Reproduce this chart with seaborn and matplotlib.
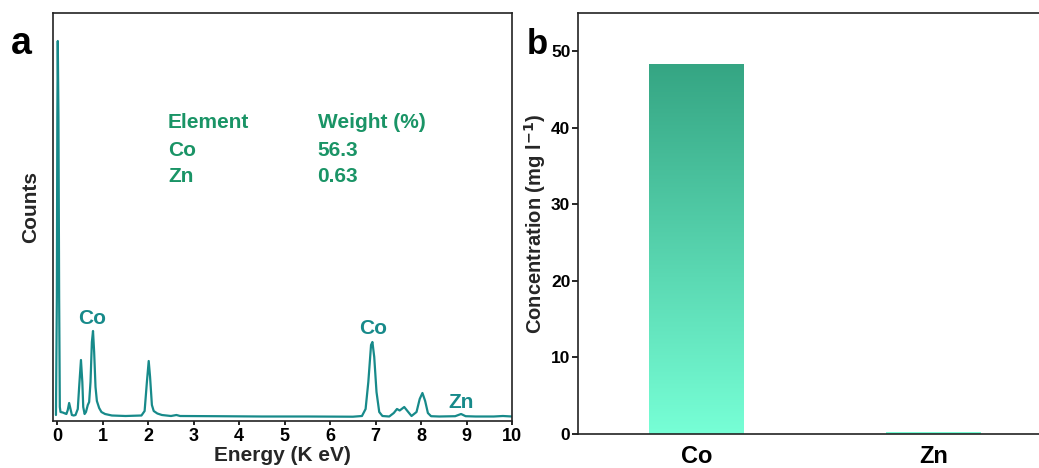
import numpy as np
import pandas as pd
import matplotlib
matplotlib.use("Agg")
import matplotlib.pyplot as plt
import seaborn as sns

# ---------------- data ----------------
energy = [-0.03, -0.01, 0.0, 0.01, 0.025, 0.04, 0.055, 0.07, 0.12, 0.17, 0.2, 0.23, 0.26, 0.29,
          0.32, 0.36, 0.4, 0.45, 0.48, 0.52, 0.55, 0.57, 0.6, 0.63, 0.67, 0.70, 0.73, 0.76, 0.785,
          0.81, 0.84, 0.87, 0.92, 0.97, 1.05, 1.2, 1.5, 1.85, 1.92, 1.97, 2.01, 2.04, 2.08, 2.12,
          2.2, 2.3, 2.5, 2.62, 2.7, 3.5, 4.5, 5.5, 6.5, 6.7, 6.78, 6.84, 6.9, 6.93, 6.97, 7.02,
          7.08, 7.15, 7.3, 7.4, 7.47, 7.53, 7.63, 7.7, 7.79, 7.9, 7.97, 8.03, 8.09, 8.15, 8.22,
          8.4, 8.75, 8.88, 8.98, 9.2, 9.6, 9.8, 10.0]
counts = [2, 120, 300, 376, 300, 120, 10, 5, 4.5, 3.5, 3, 7, 14, 8,
          2, 1.5, 2, 8, 30, 57, 35, 10, 3, 5, 12, 15, 35, 75, 86,
          65, 30, 16, 9, 5, 3, 1.5, 1, 1.5, 6, 35, 56, 40, 12, 6,
          3.5, 2, 1, 2, 1, 0.8, 0.5, 0.5, 0.3, 1, 8, 35, 72, 75, 60, 25,
          5, 1, 0.5, 4, 8, 6.5, 10, 6, 1, 5, 18, 24, 16, 4, 0.8,
          0.5, 0.8, 3, 0.8, 0.5, 0.5, 1, 0.5]

peak_labels = ["Co", "Co", "Zn"]
peak_label_x = [0.77, 6.94, 8.87]
peak_label_y = [99, 88, 14]

table_header = ["Element", "Weight (%)"]
table_elements = ["Co", "Zn"]
table_weights = ["56.3", "0.63"]

bar_elements = ["Co", "Zn"]
bar_conc = [48.4, 0.25]

# ---------------- style ----------------
sns.set_theme(style="white")
plt.rcParams["font.family"] = ["Liberation Sans", "DejaVu Sans"]
plt.rcParams["font.weight"] = "bold"
plt.rcParams["axes.labelweight"] = "bold"

line_color = "#178a8a"
table_color = "#1a9466"
top_col = np.array([0x35, 0xa5, 0x83]) / 255
bot_col = np.array([0x77, 0xff, 0xd6]) / 255

fig = plt.figure(figsize=(10.39, 4.68), dpi=100)
ax1 = fig.add_axes([53 / 1039, (468 - 421) / 468, 459 / 1039, 408 / 468])
ax2 = fig.add_axes([578 / 1039, (468 - 434) / 468, 474 / 1039, 421 / 468])

# ---------------- panel a ----------------
df = pd.DataFrame({"Energy": energy, "Counts": counts})
sns.lineplot(data=df, x="Energy", y="Counts", ax=ax1, sort=False, estimator=None,
             color=line_color, linewidth=1.6)
ax1.set_xlim(-0.095, 10)
ax1.set_ylim(-4, 404)
ax1.set_xticks(range(0, 11))
ax1.set_yticks([])
ax1.set_xlabel("Energy (K eV)", fontsize=15, fontweight="bold", labelpad=1)
ax1.set_ylabel("Counts", fontsize=15, fontweight="bold")
ax1.yaxis.set_label_coords(-0.028, 0.525)
ax1.tick_params(axis="x", direction="out", length=3, width=1.2, pad=2,
                labelsize=13, bottom=True, colors="black")
for lab in ax1.get_xticklabels():
    lab.set_fontweight("bold")
for s in ax1.spines.values():
    s.set_visible(True)
    s.set_color("#222222")
    s.set_linewidth(1.2)

for t, x, y in zip(peak_labels, peak_label_x, peak_label_y):
    ax1.text(x, y, t, color=line_color, fontsize=15, fontweight="bold",
             ha="center", va="center")

tx0 = (168 - 57.3) / 45.5
tx1 = (317.7 - 57.3) / 45.5
rows_y = [417 - 123, 417 - 150, 417 - 177]
ax1.text(tx0, rows_y[0], table_header[0], color=table_color, fontsize=15,
         fontweight="bold", ha="left", va="center")
ax1.text(tx1, rows_y[0], table_header[1], color=table_color, fontsize=15,
         fontweight="bold", ha="left", va="center")
for i, (e, w) in enumerate(zip(table_elements, table_weights)):
    ax1.text(tx0, rows_y[i + 1], e, color=table_color, fontsize=15,
             fontweight="bold", ha="left", va="center")
    ax1.text(tx1, rows_y[i + 1], w, color=table_color, fontsize=15,
             fontweight="bold", ha="left", va="center")

fig.text(21 / 1039, 1 - 44 / 468, "a", fontsize=27, fontweight="bold",
         ha="center", va="center", color="black")

# ---------------- panel b ----------------
bdf = pd.DataFrame({"Element": bar_elements, "Concentration": bar_conc})
sns.barplot(data=bdf, x="Element", y="Concentration", ax=ax2, width=0.4,
            color=bot_col, edgecolor="none", linewidth=0)
ax2.set_xlim(-0.5, 1.5)
ax2.set_ylim(0, 55)
ax2.set_yticks([0, 10, 20, 30, 40, 50])
ax2.set_xlabel("")
ax2.set_ylabel("Concentration (mg l$^{\\mathbf{-1}}$)", fontsize=14.5,
               fontweight="bold")
ax2.yaxis.set_label_coords(-0.064, 0.5)
ax2.tick_params(axis="y", direction="out", length=4, width=1.2, pad=1.5,
                labelsize=12.5, left=True, colors="black")
ax2.tick_params(axis="x", length=0, pad=8, labelsize=17, colors="black")
for lab in ax2.get_xticklabels() + ax2.get_yticklabels():
    lab.set_fontweight("bold")
for name, s in ax2.spines.items():
    s.set_visible(True)
    s.set_color("#222222")
    s.set_linewidth(1.2)

# vertical gradient fill within each bar
n = 256
top = max(bar_conc)
for patch in list(ax2.patches):
    x0 = patch.get_x()
    w = patch.get_width()
    h = patch.get_height()
    frac = np.linspace(0, h / top, n)[:, None]
    img = bot_col[None, None, :] * (1 - frac[:, :, None]) + top_col[None, None, :] * frac[:, :, None]
    img = np.repeat(img, 2, axis=1)
    im = ax2.imshow(img, extent=(x0, x0 + w, 0, h), origin="lower",
                    aspect="auto", zorder=patch.get_zorder() + 0.1, interpolation="bilinear")
    im.set_clip_path(patch)
    patch.set_facecolor("none")
ax2.set_xlim(-0.5, 1.5)
ax2.set_ylim(0, 55)
ax2.set_aspect("auto")

fig.text(537 / 1039, 1 - 44 / 468, "b", fontsize=25, fontweight="bold",
         ha="center", va="center", color="black")

fig.savefig("out.png", dpi=100)
